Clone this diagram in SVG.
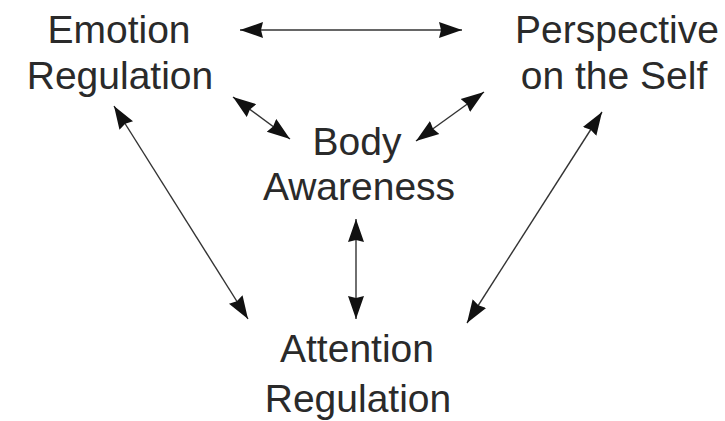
<svg xmlns="http://www.w3.org/2000/svg" width="725" height="421" viewBox="0 0 725 421">
<style>
.t{font-family:"Liberation Sans",Arial,sans-serif;font-size:39px;fill:#2a2a2a;text-anchor:middle}
.c line{stroke:#333;stroke-width:1.4;marker-start:url(#ah);marker-end:url(#ah)}
</style>
<defs>
<marker id="ah" markerUnits="userSpaceOnUse" markerWidth="24" markerHeight="18" refX="23" refY="9" orient="auto-start-reverse" viewBox="0 0 24 18">
<path d="M0,1 L23,9 L0,17 L2,9 z" fill="#111"/>
</marker>
</defs>
<rect width="725" height="421" fill="#fff"/>
<g id="emotion"><text class="t" x="119" y="43">Emotion</text><text class="t" x="120" y="89">Regulation</text></g>
<g id="perspective"><text class="t" x="617" y="43">Perspective</text><text class="t" x="614" y="89">on the Self</text></g>
<g id="body"><text class="t" x="357" y="155">Body</text><text class="t" x="359" y="200">Awareness</text></g>
<g id="attention"><text class="t" x="357" y="362">Attention</text><text class="t" x="358" y="412">Regulation</text></g>
<g class="c" id="connectors">
<line x1="240" y1="30" x2="462" y2="30"/>
<line x1="233" y1="97" x2="290" y2="139"/>
<line x1="484" y1="92" x2="416" y2="141"/>
<line x1="114" y1="106" x2="248" y2="319"/>
<line x1="602" y1="112" x2="467" y2="323"/>
<line x1="356" y1="219" x2="356" y2="319"/>
</g>
</svg>
